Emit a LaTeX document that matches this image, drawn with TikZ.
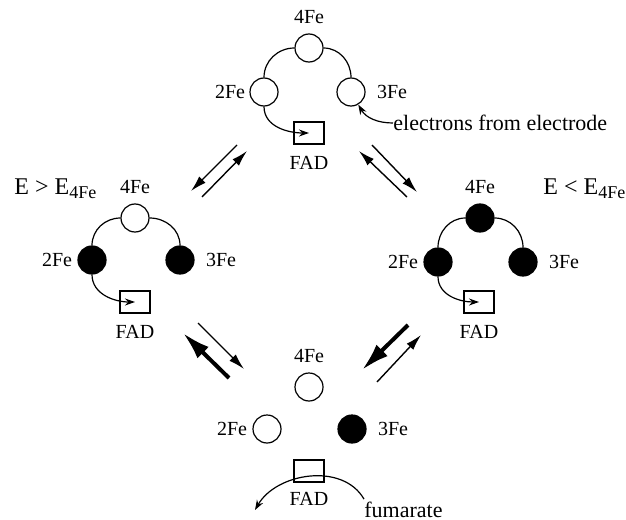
\documentclass[tikz,border=0pt]{standalone}
\usepackage{fontspec}
\setmainfont{Liberation Serif}
\usetikzlibrary{arrows.meta, positioning}
\tikzset{
  fe/.style={draw, circle, minimum size=14pt, inner sep=0pt,
             line width=0.6pt, fill=white},
  fefull/.style={fe, fill=black},
  fadbox/.style={draw, minimum width=15pt, minimum height=11pt,
                 inner sep=0pt, line width=0.6pt},
  lbl/.style={font=\fontsize{10}{12}\selectfont, inner sep=2pt},
  bigtxt/.style={font=\fontsize{12}{14}\selectfont, inner sep=0pt, anchor=west},
  ring/.style={line width=0.6pt},
  flow/.style={-{Stealth[length=5pt,width=3.5pt]}, line width=0.6pt},
  rxn/.style={-{Latex[length=8pt,width=4.5pt]}, line width=0.7pt},
  rxnbig/.style={-{Latex[length=14pt,width=8pt]}, line width=2pt}
}
\newcommand{\Esub}{\raisebox{-2pt}{\fontsize{9}{10}\selectfont 4Fe}}

\begin{document}
\begin{tikzpicture}[x=0.5pt, y=-0.5pt]
  \useasboundingbox (0,0) rectangle (626,519);

  % top: all three clusters oxidised
  \node[fe] (t4) at (309,48) {};
  \node[fe] (t2) at (264,92) {};
  \node[fe] (t3) at (351,92) {};
  \node[fadbox] (tfad) at (309,133) {};
  \node[lbl, above=2.5pt of t4] (t4l) {4Fe};
  \node[lbl, left=0pt of t2] (t2l) {2Fe};
  \node[lbl, right=3.5pt of t3] (t3l) {3Fe};
  \node[lbl, below=3.5pt of tfad] (tfadl) {FAD};
  \node[inner sep=0pt, anchor=west, font=\fontsize{11}{13}\selectfont]
    (elec) at (393,123) {electrons from electrode};
  \draw[ring] (t2) to[out=90,in=180] (t4) to[out=0,in=90] (t3);
  \draw[flow] (t2.south) to[out=-90,in=180] (tfad.center);
  \draw[flow] (elec.west) to[out=180,in=-60] (t3);

  % left: E > E4Fe
  \node[fe] (l4) at (135,218) {};
  \node[fefull] (l2) at (92,260) {};
  \node[fefull] (l3) at (180,260) {};
  \node[fadbox] (lfad) at (135,302) {};
  \node[lbl, above=2.5pt of l4] (l4l) {4Fe};
  \node[lbl, left=0.5pt of l2] (l2l) {2Fe};
  \node[lbl, right=3.5pt of l3] (l3l) {3Fe};
  \node[lbl, below=3.5pt of lfad] (lfadl) {FAD};
  \node[bigtxt] (eox) at (14,189) {E > E\Esub};
  \draw[ring] (l2) to[out=90,in=180] (l4) to[out=0,in=90] (l3);
  \draw[flow] (l2.south) to[out=-90,in=180] (lfad.center);

  % right: E < E4Fe
  \node[fefull] (r4) at (480,218) {};
  \node[fefull] (r2) at (438,262) {};
  \node[fefull] (r3) at (523,262) {};
  \node[fadbox] (rfad) at (479,302) {};
  \node[lbl, above=2.5pt of r4] (r4l) {4Fe};
  \node[lbl, left=0.5pt of r2] (r2l) {2Fe};
  \node[lbl, right=3.5pt of r3] (r3l) {3Fe};
  \node[lbl, below=3.5pt of rfad] (rfadl) {FAD};
  \node[bigtxt] (ered) at (543,189) {E < E\Esub};
  \draw[ring] (r2) to[out=90,in=180] (r4) to[out=0,in=90] (r3);
  \draw[flow] (r2.south) to[out=-90,in=180] (rfad.center);

  % bottom: turnover
  \node[fe] (b4) at (309,387) {};
  \node[fe] (b2) at (267,429) {};
  \node[fefull] (b3) at (352,429) {};
  \node[fadbox] (bfad) at (309,471) {};
  \node[lbl, above=2.5pt of b4] (b4l) {4Fe};
  \node[lbl, left=0.5pt of b2] (b2l) {2Fe};
  \node[lbl, right=3.5pt of b3] (b3l) {3Fe};
  \node[lbl, below=2.5pt of bfad] (bfadl) {FAD};
  \node[inner sep=0pt, anchor=base west, font=\fontsize{11}{13}\selectfont]
    (fum) at (364,517) {fumarate};
  \coordinate (bout) at (255,510);
  \draw[flow] ([yshift=1pt]fum.north west) to[out=120,in=60] (bout);

  % equilibrium arrows
  \coordinate (a1s) at (237,145); \coordinate (a1e) at (191,191);
  \coordinate (a2s) at (202,197); \coordinate (a2e) at (247,151);
  \coordinate (a3s) at (407,197); \coordinate (a3e) at (359,151);
  \coordinate (a4s) at (372,145); \coordinate (a4e) at (417,192);
  \coordinate (a5s) at (229,378); \coordinate (a5e) at (183,333);
  \coordinate (a6s) at (198,323); \coordinate (a6e) at (244,369);
  \coordinate (a7s) at (408,325); \coordinate (a7e) at (362,370);
  \coordinate (a8s) at (377,382); \coordinate (a8e) at (421,335);
  \draw[rxn] (a1s) -- (a1e);
  \draw[rxn] (a2s) -- (a2e);
  \draw[rxn] (a3s) -- (a3e);
  \draw[rxn] (a4s) -- (a4e);
  \draw[rxnbig] (a5s) -- (a5e);
  \draw[rxn] (a6s) -- (a6e);
  \draw[rxnbig] (a7s) -- (a7e);
  \draw[rxn] (a8s) -- (a8e);
\end{tikzpicture}
\end{document}
